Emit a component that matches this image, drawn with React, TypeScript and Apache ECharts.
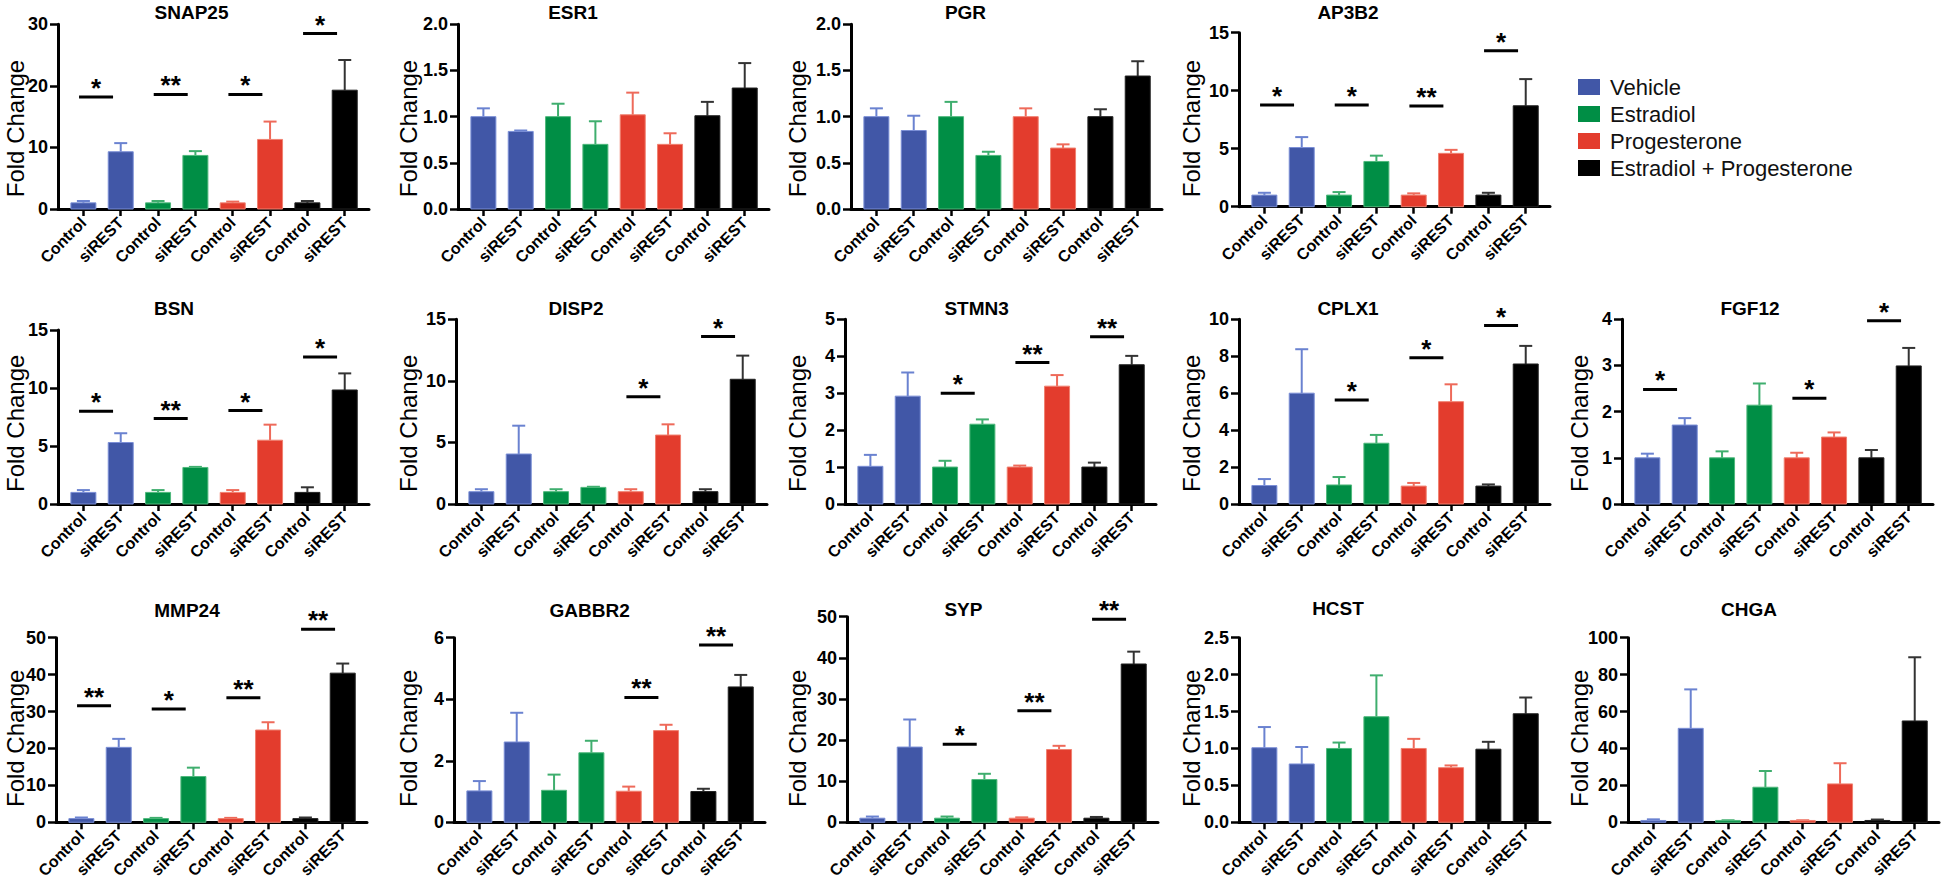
import React, { useEffect, useRef } from 'react';
import * as echarts from 'echarts';

// ---------- data ----------
const categories = ['Control', 'siREST', 'Control', 'siREST', 'Control', 'siREST', 'Control', 'siREST'];
const groupNames = ['Vehicle', 'Estradiol', 'Progesterone', 'Estradiol + Progesterone'];

const geneNames = ['SNAP25', 'ESR1', 'PGR', 'AP3B2', 'BSN', 'DISP2', 'STMN3', 'CPLX1', 'FGF12', 'MMP24', 'GABBR2', 'SYP', 'HCST', 'CHGA'];

const snap25Mean = [1.0, 9.3, 1.0, 8.7, 1.0, 11.3, 1.0, 19.3];
const snap25Sem = [0.3, 1.4, 0.3, 0.7, 0.2, 2.9, 0.3, 4.9];
const snap25Sig = [[0, 18.2, '*'], [1, 18.6, '**'], [2, 18.6, '*'], [3, 28.5, '*']];

const esr1Mean = [1.0, 0.84, 1.0, 0.7, 1.02, 0.7, 1.01, 1.31];
const esr1Sem = [0.09, 0.01, 0.14, 0.25, 0.24, 0.12, 0.15, 0.27];
const esr1Sig: any[] = [];

const pgrMean = [1.0, 0.85, 1.0, 0.58, 1.0, 0.66, 1.0, 1.44];
const pgrSem = [0.09, 0.16, 0.16, 0.04, 0.09, 0.04, 0.08, 0.16];
const pgrSig: any[] = [];

const ap3b2Mean = [1.0, 5.1, 1.0, 3.9, 1.0, 4.6, 1.0, 8.7];
const ap3b2Sem = [0.2, 0.9, 0.26, 0.5, 0.15, 0.3, 0.2, 2.3];
const ap3b2Sig = [[0, 8.76, '*'], [1, 8.76, '*'], [2, 8.68, '**'], [3, 13.45, '*']];

const bsnMean = [1.0, 5.3, 1.0, 3.15, 1.0, 5.5, 1.0, 9.83];
const bsnSem = [0.2, 0.8, 0.2, 0.05, 0.2, 1.34, 0.44, 1.43];
const bsnSig = [[0, 8.0, '*'], [1, 7.36, '**'], [2, 8.05, '*'], [3, 12.67, '*']];

const disp2Mean = [1.0, 4.06, 1.0, 1.35, 1.0, 5.6, 1.0, 10.13];
const disp2Sem = [0.2, 2.3, 0.2, 0.05, 0.2, 0.87, 0.2, 1.92];
const disp2Sig = [[2, 8.72, '*'], [3, 13.6, '*']];

const stmn3Mean = [1.02, 2.92, 1.0, 2.16, 1.0, 3.19, 1.0, 3.77];
const stmn3Sem = [0.31, 0.64, 0.17, 0.13, 0.04, 0.3, 0.12, 0.24];
const stmn3Sig = [[1, 3.0, '*'], [2, 3.83, '**'], [3, 4.53, '**']];

const cplx1Mean = [1.0, 6.0, 1.03, 3.29, 0.97, 5.54, 0.97, 7.58];
const cplx1Sem = [0.35, 2.38, 0.43, 0.45, 0.17, 0.94, 0.09, 0.98];
const cplx1Sig = [[1, 5.63, '*'], [2, 7.92, '*'], [3, 9.66, '*']];

const fgf12Mean = [1.0, 1.71, 1.0, 2.14, 1.0, 1.45, 1.0, 2.99];
const fgf12Sem = [0.09, 0.15, 0.14, 0.47, 0.11, 0.1, 0.17, 0.39];
const fgf12Sig = [[0, 2.48, '*'], [2, 2.29, '*'], [3, 3.97, '*']];

const mmp24Mean = [1.0, 20.3, 1.0, 12.4, 1.0, 25.0, 1.0, 40.4];
const mmp24Sem = [0.3, 2.3, 0.2, 2.4, 0.2, 2.1, 0.3, 2.6];
const mmp24Sig = [[0, 31.6, '**'], [1, 30.7, '*'], [2, 33.75, '**'], [3, 52.3, '**']];

const gabbr2Mean = [1.02, 2.61, 1.04, 2.26, 1.01, 2.98, 1.0, 4.4];
const gabbr2Sem = [0.32, 0.95, 0.51, 0.39, 0.15, 0.19, 0.09, 0.39];
const gabbr2Sig = [[2, 4.06, '**'], [3, 5.76, '**']];

const sypMean = [1.0, 18.3, 1.0, 10.4, 1.0, 17.7, 1.0, 38.5];
const sypSem = [0.4, 6.7, 0.4, 1.4, 0.2, 0.9, 0.3, 3.0];
const sypSig = [[1, 19.0, '*'], [2, 27.1, '**'], [3, 49.4, '**']];

const hcstMean = [1.01, 0.79, 1.0, 1.43, 1.0, 0.74, 0.99, 1.47];
const hcstSem = [0.28, 0.23, 0.08, 0.56, 0.13, 0.03, 0.1, 0.22];
const hcstSig: any[] = [];

const chgaMean = [1.0, 50.9, 1.0, 19.0, 1.0, 20.8, 1.0, 54.9];
const chgaSem = [0.6, 21.1, 0.1, 8.8, 0.1, 11.2, 0.5, 34.5];
const chgaSig: any[] = [];

const allMeans = [snap25Mean, esr1Mean, pgrMean, ap3b2Mean, bsnMean, disp2Mean, stmn3Mean, cplx1Mean, fgf12Mean, mmp24Mean, gabbr2Mean, sypMean, hcstMean, chgaMean];
const allSems = [snap25Sem, esr1Sem, pgrSem, ap3b2Sem, bsnSem, disp2Sem, stmn3Sem, cplx1Sem, fgf12Sem, mmp24Sem, gabbr2Sem, sypSem, hcstSem, chgaSem];
const allSigs = [snap25Sig, esr1Sig, pgrSig, ap3b2Sig, bsnSig, disp2Sig, stmn3Sig, cplx1Sig, fgf12Sig, mmp24Sig, gabbr2Sig, sypSig, hcstSig, chgaSig];

const yMaxes = [30, 2, 2, 15, 15, 15, 5, 10, 4, 50, 6, 50, 2.5, 100];
const ySteps = [10, 0.5, 0.5, 5, 5, 5, 1, 2, 1, 10, 2, 10, 0.5, 20];
const yDecimals = [0, 1, 1, 0, 0, 0, 0, 0, 0, 0, 0, 0, 1, 0];

// ---------- layout & style ----------
// [axisX, gridTop, gridBottom, titleX, titleY, nameX, nameY]
const layout = [
  [58, 24.3, 209, 191.5, 12, 15, 128.5],
  [458, 24.3, 209, 573, 12, 408.5, 128.5],
  [851, 24.3, 209, 965.5, 12, 797.5, 128.5],
  [1239, 32.7, 206.7, 1348, 12, 1191.5, 128.5],
  [58, 330, 504, 174, 308, 15, 423.3],
  [456, 319.3, 504, 576, 308, 408.5, 423.3],
  [845, 319.3, 504, 976.6, 308, 797.5, 423.3],
  [1239, 319.3, 504, 1348, 308, 1191.4, 423.3],
  [1622, 319.3, 504, 1750, 308, 1579, 423.3],
  [56, 637.7, 822.3, 187, 610, 15, 738.3],
  [454, 637.7, 822.3, 589.6, 610, 408.5, 738.3],
  [847, 616.7, 822.3, 963.4, 609, 797.5, 738.3],
  [1239, 637.7, 822.3, 1338, 608, 1191.4, 738.3],
  [1628, 637.7, 822.3, 1749, 609, 1579, 738.3],
];
const PLOT_W = 311;
const X_MIN = -0.68;
const X_MAX = 7.65;
const BAR_W = 25;
const CAP_W = 13;

const FONT = '"Liberation Sans", Arial, Helvetica, sans-serif';
const fillColors = ['#4157a7', '#008e45', '#e33c2d', '#000000'];
const edgeColors = ['#7b8fd6', '#4fb87c', '#f08070', '#222222'];
const errColors = ['#6a82d0', '#3fae6e', '#ee6a5a', '#333333'];

const tickIdx = categories.map((_, i) => i);

function renderBar(params: any, api: any) {
  const x = api.value(0);
  const m = api.value(1);
  const top = api.value(2);
  const g = api.value(3);
  const p0 = api.coord([x, 0]);
  const p1 = api.coord([x, m]);
  const p2 = api.coord([x, top]);
  return {
    type: 'group',
    children: [
      {
        type: 'line',
        shape: { x1: p1[0], y1: p1[1], x2: p2[0], y2: p2[1] },
        style: { stroke: errColors[g], lineWidth: 2 },
      },
      {
        type: 'line',
        shape: { x1: p2[0] - CAP_W / 2, y1: p2[1], x2: p2[0] + CAP_W / 2, y2: p2[1] },
        style: { stroke: errColors[g], lineWidth: 2 },
      },
      {
        type: 'rect',
        shape: { x: p0[0] - BAR_W / 2, y: p1[1], width: BAR_W, height: p0[1] - p1[1] },
        style: { fill: fillColors[g], stroke: edgeColors[g], lineWidth: 1 },
      },
    ],
  };
}

function makeSigRenderer(sig: any[]) {
  return (params: any, api: any) => {
    const c = api.coord([api.value(0), api.value(1)]);
    const label = sig[params.dataIndex][2];
    return {
      type: 'group',
      children: [
        {
          type: 'line',
          shape: { x1: c[0] - 23, y1: c[1], x2: c[0] + 11, y2: c[1] },
          style: { stroke: '#000', lineWidth: 3 },
        },
        {
          type: 'text',
          x: c[0] - 6,
          y: c[1] - 9,
          style: {
            text: label,
            fill: '#000',
            fontSize: 26,
            fontWeight: 'bold',
            fontFamily: FONT,
            align: 'center',
            verticalAlign: 'middle',
          },
        },
      ],
    };
  };
}

function buildOption() {
  const grid: any[] = [];
  const xAxis: any[] = [];
  const yAxis: any[] = [];
  const series: any[] = [];
  const graphic: any[] = [];

  geneNames.forEach((name, i) => {
    const [ax, top, bottom, tx, ty, nx, ny] = layout[i];
    const dec = yDecimals[i];
    grid.push({ left: ax, top, width: PLOT_W, height: bottom - top, containLabel: false });
    xAxis.push({
      gridIndex: i,
      type: 'value',
      min: X_MIN,
      max: X_MAX,
      splitLine: { show: false },
      axisLine: { show: true, onZero: false, lineStyle: { color: '#000', width: 3 } },
      axisTick: { show: true, customValues: tickIdx, length: 7, lineStyle: { color: '#000', width: 2.5 } },
      axisLabel: {
        show: true,
        customValues: tickIdx,
        formatter: (v: number) => categories[Math.round(v)],
        rotate: 45,
        margin: 11,
        fontSize: 16,
        fontWeight: 'bold',
        color: '#000',
        fontFamily: FONT,
      },
    });
    yAxis.push({
      gridIndex: i,
      type: 'value',
      min: 0,
      max: yMaxes[i],
      interval: ySteps[i],
      splitLine: { show: false },
      axisLine: { show: true, onZero: false, lineStyle: { color: '#000', width: 3 } },
      axisTick: { show: true, length: 8, lineStyle: { color: '#000', width: 2.5 } },
      axisLabel: {
        margin: 10,
        fontSize: 18,
        fontWeight: 'bold',
        color: '#000',
        fontFamily: FONT,
        formatter: (v: number) => v.toFixed(dec),
      },
    });
    const means = allMeans[i];
    const sems = allSems[i];
    series.push({
      type: 'custom',
      name: name,
      xAxisIndex: i,
      yAxisIndex: i,
      clip: false,
      silent: true,
      data: means.map((m, k) => [k, m, m + sems[k], Math.floor(k / 2)]),
      renderItem: renderBar,
    });
    const sig = allSigs[i];
    if (sig.length) {
      series.push({
        type: 'custom',
        xAxisIndex: i,
        yAxisIndex: i,
        clip: false,
        silent: true,
        data: sig.map((s: any) => [s[0] * 2 + 0.5, s[1]]),
        renderItem: makeSigRenderer(sig),
      });
    }
    graphic.push({
      type: 'text',
      x: tx,
      y: ty,
      silent: true,
      style: {
        text: name,
        fill: '#000',
        fontSize: 19,
        fontWeight: 'bold',
        fontFamily: FONT,
        align: 'center',
        verticalAlign: 'middle',
      },
    });
    graphic.push({
      type: 'text',
      x: nx,
      y: ny,
      rotation: Math.PI / 2,
      silent: true,
      style: {
        text: 'Fold Change',
        fill: '#000',
        fontSize: 24,
        fontFamily: FONT,
        align: 'center',
        verticalAlign: 'middle',
      },
    });
  });

  // hidden grid carrying the legend entries
  const hidden = geneNames.length;
  grid.push({ left: 0, top: 0, width: 1, height: 1, show: false });
  xAxis.push({ gridIndex: hidden, type: 'category', show: false, data: ['a'] });
  yAxis.push({ gridIndex: hidden, type: 'value', show: false });
  groupNames.forEach((g, k) => {
    series.push({
      type: 'bar',
      name: g,
      xAxisIndex: hidden,
      yAxisIndex: hidden,
      data: [],
      itemStyle: { color: fillColors[k] },
    });
  });

  return {
    animation: false,
    backgroundColor: '#ffffff',
    grid,
    xAxis,
    yAxis,
    series,
    graphic,
    legend: {
      data: groupNames,
      orient: 'vertical',
      left: 1578,
      top: 76,
      padding: 0,
      itemWidth: 22,
      itemHeight: 16,
      itemGap: 5,
      icon: 'rect',
      selectedMode: false,
      textStyle: { fontSize: 22, color: '#111', fontFamily: FONT, lineHeight: 16, padding: [0, 0, 0, 5] },
    },
  };
}

export default function App() {
  const ref = useRef<HTMLDivElement>(null);
  useEffect(() => {
    if (!ref.current) return;
    const chart = echarts.init(ref.current, undefined, { renderer: 'svg' });
    chart.setOption(buildOption() as any);
    return () => chart.dispose();
  }, []);
  return (
    <div
      ref={ref}
      style={{ position: 'absolute', left: 0, top: 0, width: 1944, height: 891, background: '#fff' }}
    />
  );
}
